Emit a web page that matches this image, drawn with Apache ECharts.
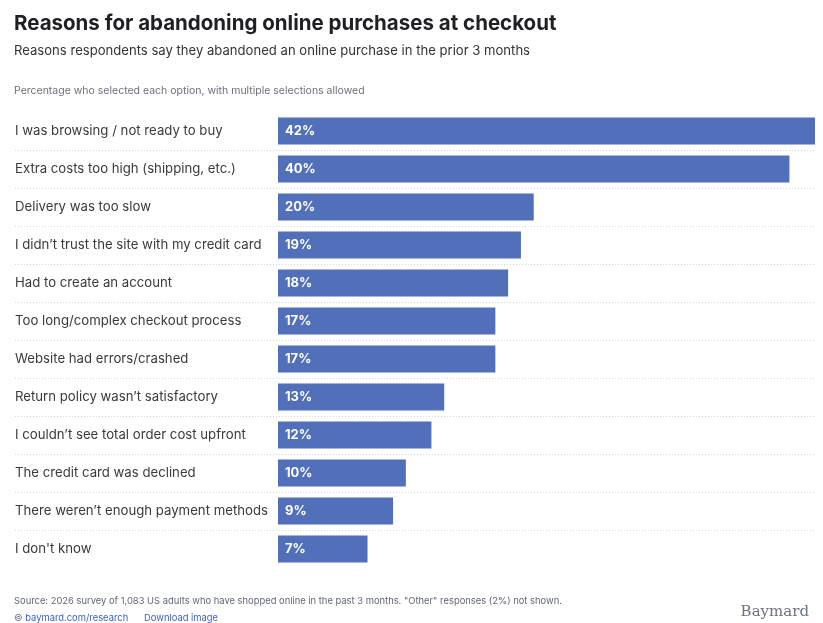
<!DOCTYPE html>
<html>
<head>
<meta charset="utf-8">
<script src="https://cdn.jsdelivr.net/npm/echarts@6/dist/echarts.min.js"></script>
<style>
  html, body { margin: 0; padding: 0; background: #fff; }
  #chart { width: 823px; height: 623px; }
</style>
</head>
<body>
<div id="chart"></div>
<script>
// data
var reasons = [
  'I was browsing / not ready to buy',
  'Extra costs too high (shipping, etc.)',
  'Delivery was too slow',
  'I didn\u2019t trust the site with my credit card',
  'Had to create an account',
  'Too long/complex checkout process',
  'Website had errors/crashed',
  'Return policy wasn\u2019t satisfactory',
  'I couldn\u2019t see total order cost upfront',
  'The credit card was declined',
  'There weren\u2019t enough payment methods',
  'I don\'t know'
];
var shares = [42, 40, 20, 19, 18, 17, 17, 13, 12, 10, 9, 7];

var font = 'Inter, "Noto Sans", sans-serif';

var chart = echarts.init(document.getElementById('chart'), null, { renderer: 'canvas' });

var option = {
  backgroundColor: '#fff',
  animation: false,
  textStyle: { fontFamily: font },
  title: [
    {
      text: 'Reasons for abandoning online purchases at checkout',
      left: 9, top: 8,
      textStyle: { fontSize: 20.5, fontWeight: 'bold', color: '#1f1f24', fontFamily: font }
    },
    {
      text: 'Reasons respondents say they abandoned an online purchase in the prior 3 months',
      left: 9, top: 40,
      textStyle: { fontSize: 13.1, fontWeight: 'normal', color: '#333', fontFamily: font }
    },
    {
      text: 'Percentage who selected each option, with multiple selections allowed',
      left: 9, top: 80,
      textStyle: { fontSize: 10.5, fontWeight: 'normal', color: '#6b7080', fontFamily: font }
    },
    {
      text: 'Source: 2026 survey of 1,083 US adults who have shopped online in the past 3 months. "Other" responses (2%) not shown.',
      left: 9, top: 592,
      textStyle: { fontSize: 9.4, fontWeight: 'normal', color: '#5f6675', fontFamily: font }
    },
    {
      text: '{g|\u00a9 }{a|baymard.com/research}{g|      }{a|Download image}',
      left: 9, top: 609,
      textStyle: {
        fontSize: 9.4, fontWeight: 'normal', fontFamily: font,
        rich: {
          g: { fontSize: 9.4, fontWeight: 'normal', color: '#6b7080', fontFamily: font },
          a: { fontSize: 9.4, fontWeight: 'normal', color: '#3d5fc4', fontFamily: font }
        }
      }
    },
    {
      text: 'Baymard',
      right: 9, top: 600,
      textStyle: { fontSize: 15, fontWeight: 'normal', color: '#6b7280', fontFamily: '"DejaVu Serif", "Liberation Serif", serif' }
    }
  ],
  grid: [
    { left: 278, right: 8, top: 112, height: 456 },
    { left: 15, right: 8, top: 112, height: 456 }
  ],
  xAxis: [
    { gridIndex: 0, type: 'value', min: 0, max: 42, show: false },
    { gridIndex: 1, type: 'value', min: 0, max: 1, show: false }
  ],
  yAxis: [
    {
      gridIndex: 0,
      type: 'category',
      data: reasons,
      inverse: true,
      axisLine: { show: false },
      axisTick: { show: false },
      splitLine: { show: false },
      axisLabel: {
        align: 'left',
        margin: 263,
        fontSize: 13.2,
        color: '#3a3a3f',
        fontFamily: font
      }
    },
    {
      gridIndex: 1,
      type: 'category',
      data: reasons,
      inverse: true,
      axisLine: { show: false },
      axisTick: { show: false },
      axisLabel: { show: false },
      splitLine: {
        show: true,
        showMinLine: false,
        showMaxLine: false,
        lineStyle: { color: '#d3d6e0', type: [1, 2], width: 1 }
      }
    }
  ],
  series: [
    {
      type: 'bar',
      xAxisIndex: 0,
      yAxisIndex: 0,
      data: shares,
      barCategoryGap: '29%',
      itemStyle: { color: '#5170b9' },
      label: {
        show: true,
        position: 'insideLeft',
        distance: 7,
        formatter: '{c}%',
        color: '#fff',
        fontWeight: 'bold',
        fontSize: 13,
        fontFamily: font
      },
      z: 3
    }
  ]
};

chart.setOption(option);
</script>
</body>
</html>
